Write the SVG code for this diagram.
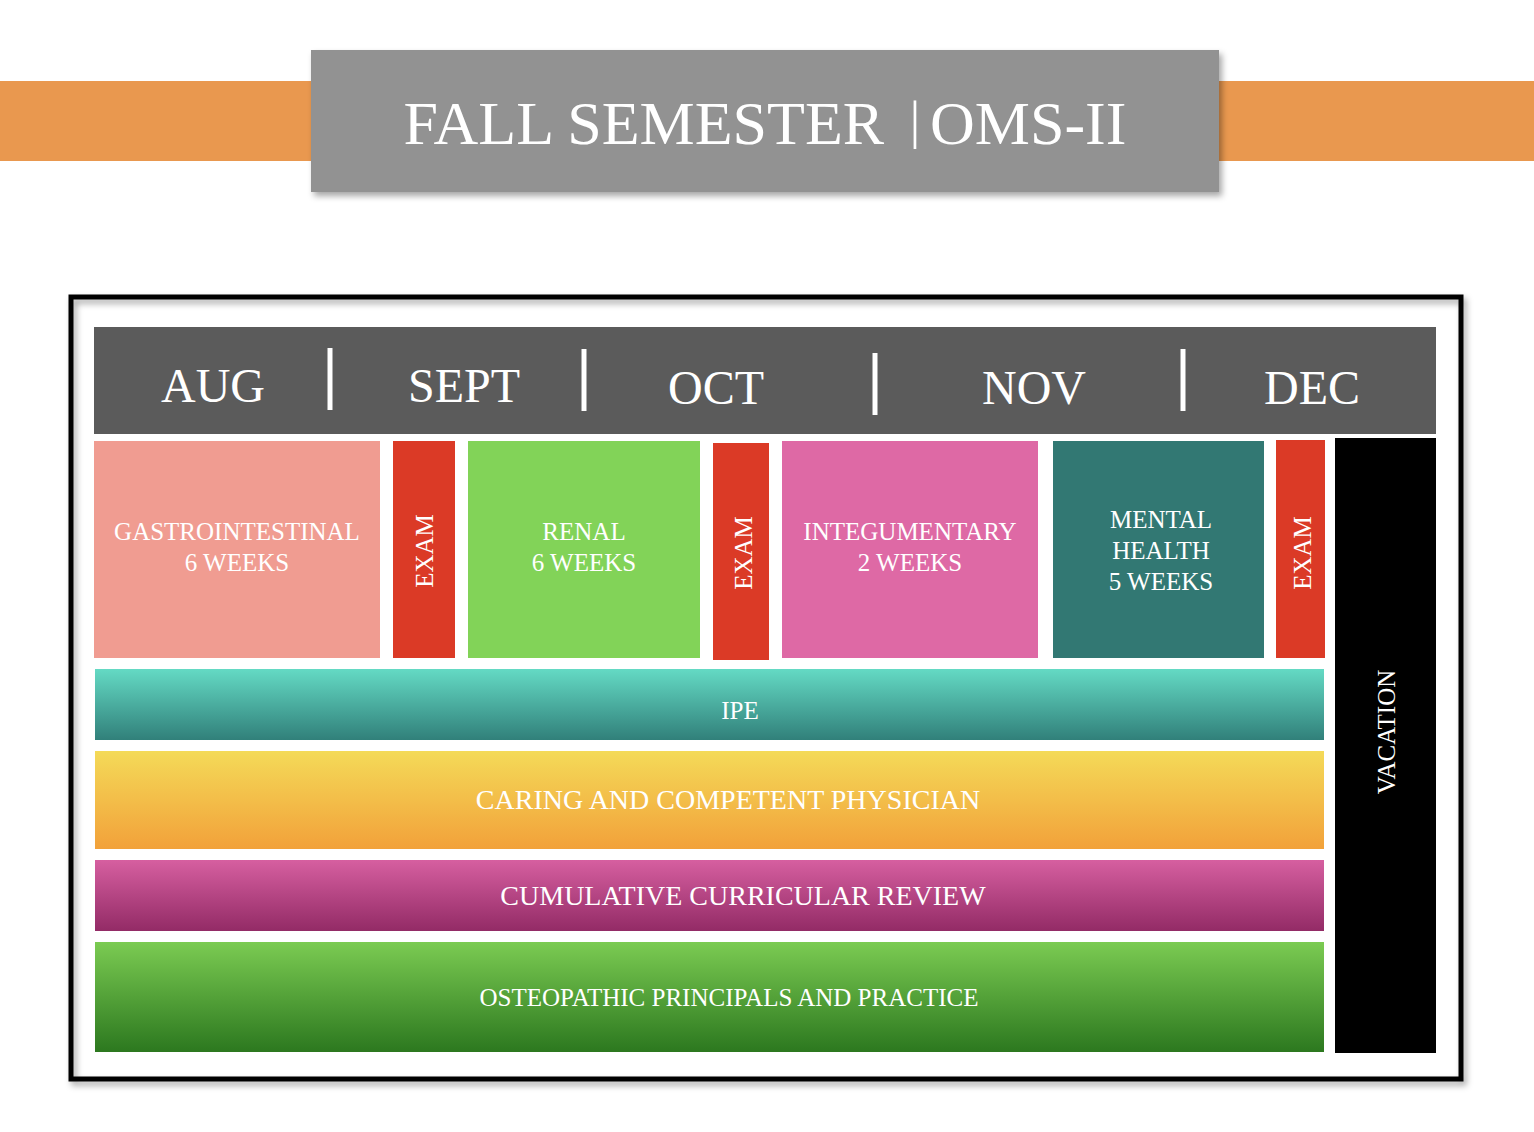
<svg xmlns="http://www.w3.org/2000/svg" width="1534" height="1132" viewBox="0 0 1534 1132">
<style>
text{font-family:"Liberation Serif","DejaVu Serif",serif;fill:#fff;text-anchor:middle}
.m{font-size:48px}
.b{font-size:25px}
.sep{stroke:#fff;stroke-width:5}
</style>
<defs>
<linearGradient id="g1" x1="0" y1="0" x2="0" y2="1"><stop offset="0" stop-color="#64DAC4"/><stop offset="1" stop-color="#31807A"/></linearGradient>
<linearGradient id="g2" x1="0" y1="0" x2="0" y2="1"><stop offset="0" stop-color="#F4DA58"/><stop offset="1" stop-color="#F2A13A"/></linearGradient>
<linearGradient id="g3" x1="0" y1="0" x2="0" y2="1"><stop offset="0" stop-color="#D65FA0"/><stop offset="1" stop-color="#932B66"/></linearGradient>
<linearGradient id="g4" x1="0" y1="0" x2="0" y2="1"><stop offset="0" stop-color="#7BCB52"/><stop offset="1" stop-color="#2C781F"/></linearGradient>
<filter id="sh" x="-5%" y="-10%" width="110%" height="130%"><feDropShadow dx="3" dy="4" stdDeviation="3" flood-opacity="0.35"/></filter>
</defs>
<rect width="1534" height="1132" fill="#fff"/>
<g id="title">
<rect x="0" y="81" width="1534" height="80" fill="#E9984F"/>
<rect x="311" y="50" width="908" height="142" fill="#929292" filter="url(#sh)"/>
<text x="765" y="144" style="font-size:62px">FALL SEMESTER <tspan dx="10" dy="-6" style="font-size:52px">|</tspan><tspan dx="10" dy="6">OMS-II</tspan></text>
</g>
<g id="frame"><rect x="71" y="297" width="1390" height="782" fill="none" stroke="#000" stroke-width="5" filter="url(#sh)"/></g>
<g id="months">
<rect x="94" y="327" width="1342" height="107" fill="#5B5B5B"/>
<text class="m" x="213" y="402">AUG</text>
<text class="m" x="464" y="402">SEPT</text>
<text class="m" x="716" y="404">OCT</text>
<text class="m" x="1034" y="404">NOV</text>
<text class="m" x="1312" y="404">DEC</text>
<line class="sep" x1="330" y1="348" x2="330" y2="410"/>
<line class="sep" x1="584" y1="349" x2="584" y2="411"/>
<line class="sep" x1="875" y1="353" x2="875" y2="415"/>
<line class="sep" x1="1183" y1="349" x2="1183" y2="411"/>
</g>
<g id="gi"><rect x="94" y="441" width="286" height="217" fill="#F09C91"/><text class="b" x="237" y="540">GASTROINTESTINAL</text><text class="b" x="237" y="571">6 WEEKS</text></g>
<g id="exam1"><rect x="393" y="441" width="62" height="217" fill="#DB3A26"/><text class="b" transform="translate(433,551) rotate(-90)">EXAM</text></g>
<g id="renal"><rect x="468" y="441" width="232" height="217" fill="#82D358"/><text class="b" x="584" y="540">RENAL</text><text class="b" x="584" y="571">6 WEEKS</text></g>
<g id="exam2"><rect x="713" y="443" width="56" height="217" fill="#DB3A26"/><text class="b" transform="translate(752,553) rotate(-90)">EXAM</text></g>
<g id="integ"><rect x="782" y="441" width="256" height="217" fill="#DE69A5"/><text class="b" x="910" y="540">INTEGUMENTARY</text><text class="b" x="910" y="571">2 WEEKS</text></g>
<g id="mental"><rect x="1053" y="441" width="211" height="217" fill="#327873"/><text class="b" x="1161" y="528">MENTAL</text><text class="b" x="1161" y="559">HEALTH</text><text class="b" x="1161" y="590">5 WEEKS</text></g>
<g id="exam3"><rect x="1276" y="440" width="49" height="218" fill="#DB3A26"/><text class="b" transform="translate(1311,553) rotate(-90)">EXAM</text></g>
<g id="vacation"><rect x="1335" y="438" width="101" height="615" fill="#000"/><text class="b" transform="translate(1395,732) rotate(-90)">VACATION</text></g>
<g id="ipe"><rect x="95" y="669" width="1229" height="71" fill="url(#g1)"/><text class="b" x="740" y="719">IPE</text></g>
<g id="caring"><rect x="95" y="751" width="1229" height="98" fill="url(#g2)"/><text class="b" style="font-size:28px" x="728" y="809">CARING AND COMPETENT PHYSICIAN</text></g>
<g id="ccr"><rect x="95" y="860" width="1229" height="71" fill="url(#g3)"/><text class="b" style="font-size:28px" x="743" y="905">CUMULATIVE CURRICULAR REVIEW</text></g>
<g id="opp"><rect x="95" y="942" width="1229" height="110" fill="url(#g4)"/><text class="b" x="729" y="1006">OSTEOPATHIC PRINCIPALS AND PRACTICE</text></g>
<g id="connectors"/>
</svg>
